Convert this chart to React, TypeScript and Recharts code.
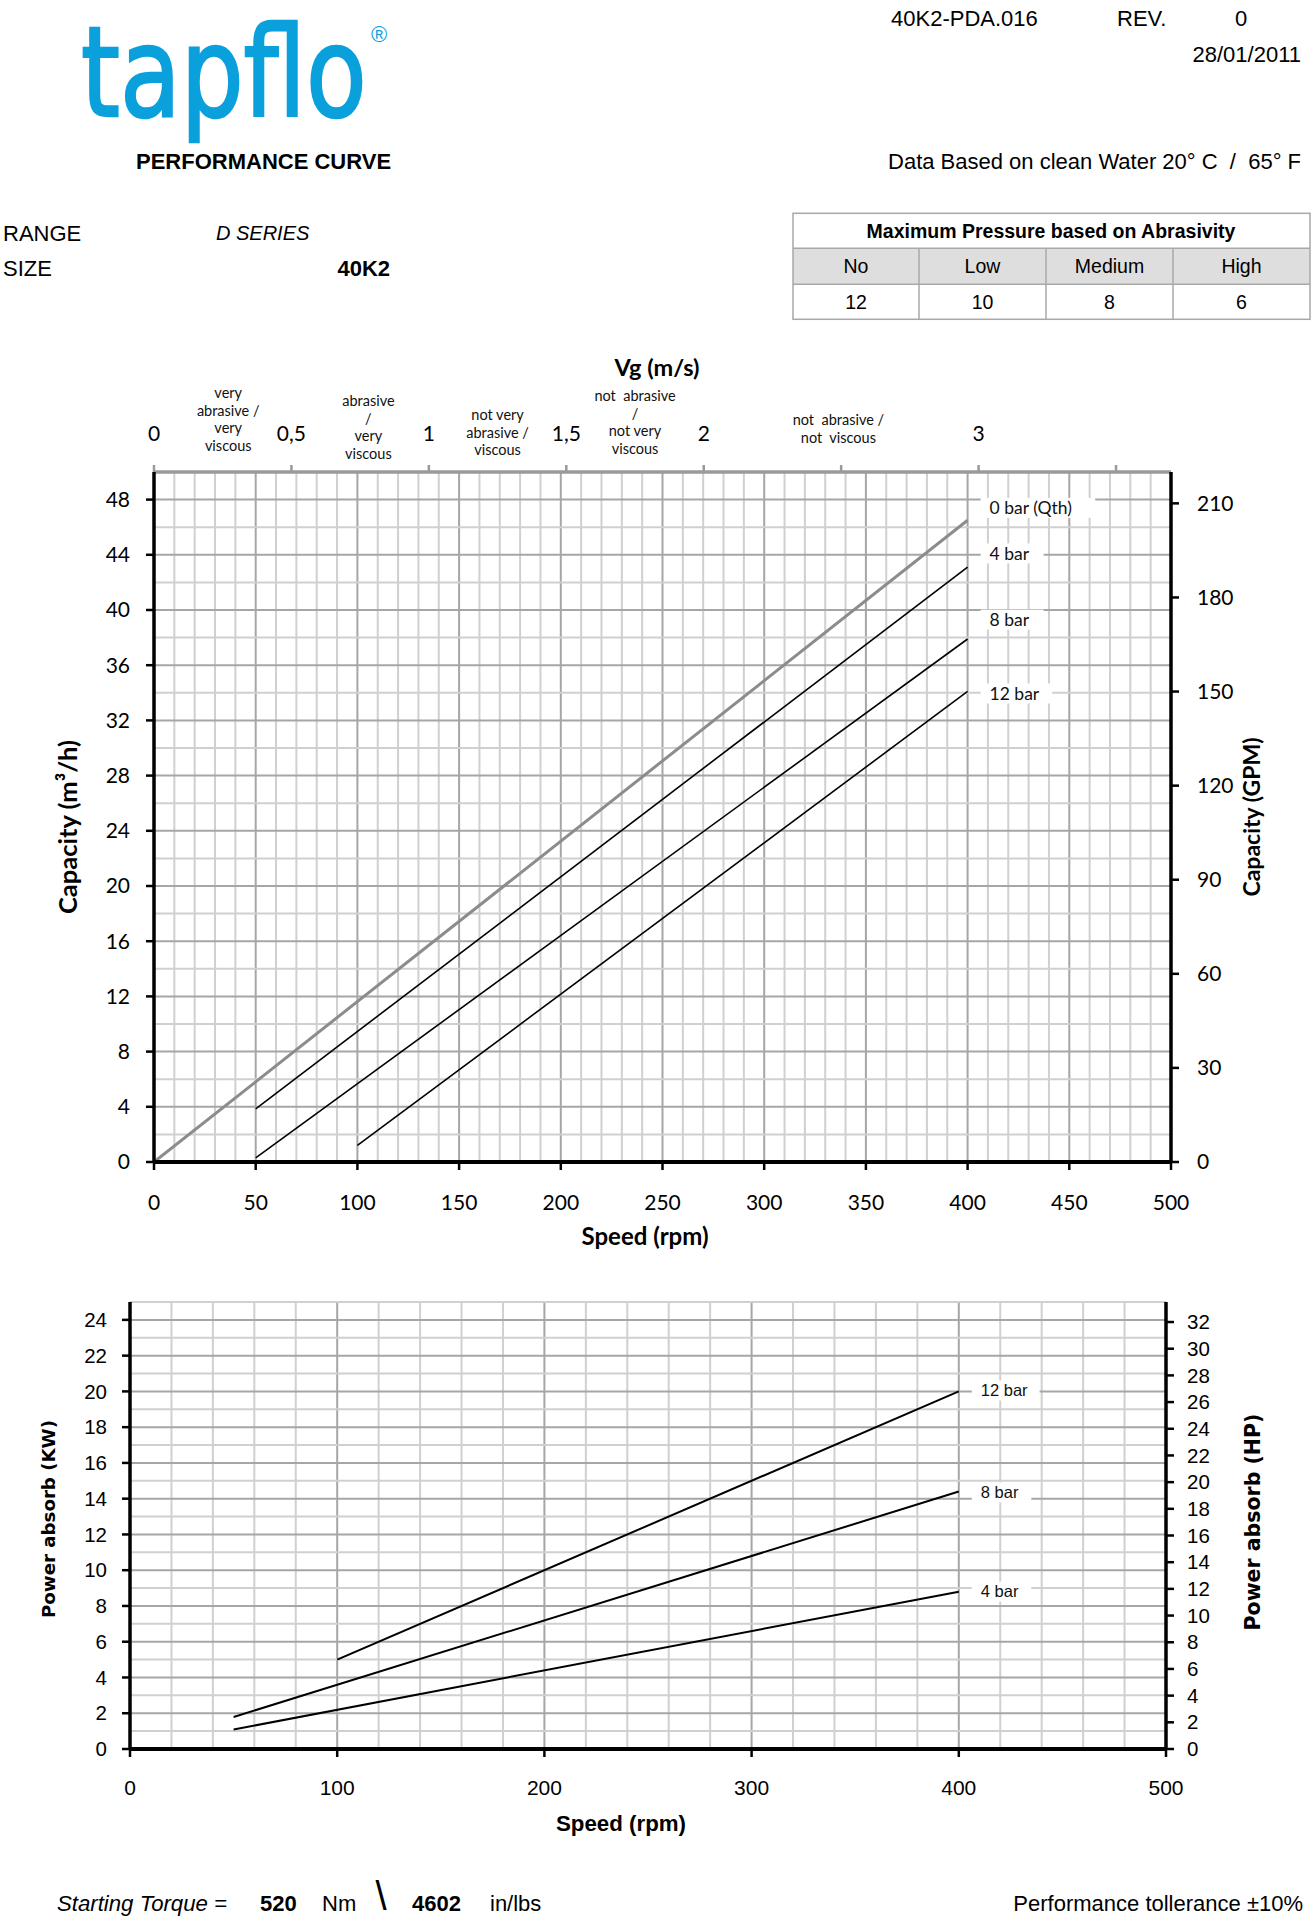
import React from 'react';
import { LineChart, Line, XAxis, YAxis, ReferenceLine, ReferenceDot, Label } from 'recharts';

// ---------------- data ----------------
const speedTicksTop = [0, 50, 100, 150, 200, 250, 300, 350, 400, 450, 500];
const capacityTicks = [0, 4, 8, 12, 16, 20, 24, 28, 32, 36, 40, 44, 48];
const gpmTicks = [0, 30, 60, 90, 120, 150, 180, 210];
const vgTicks = [0, 0.5, 1, 1.5, 2, 2.5, 3, 3.5];
const vgTickLabels = ['0', '0,5', '1', '1,5', '2', '', '3', ''];
const vgZoneCenters = [0.27, 0.78, 1.25, 1.75, 2.49];
const vgZoneTexts = [
  ['very', 'abrasive /', 'very', 'viscous'],
  ['abrasive', '/', 'very', 'viscous'],
  ['not very', 'abrasive /', 'viscous'],
  ['not  abrasive', '/', 'not very', 'viscous'],
  ['not  abrasive /', 'not  viscous'],
];
const vgRange = [0, 3.7];

const capQth = [{ rpm: 0, q: 0 }, { rpm: 400, q: 46.5 }];
const cap4 = [{ rpm: 50, q: 3.85 }, { rpm: 400, q: 43.1 }];
const cap8 = [{ rpm: 50, q: 0.3 }, { rpm: 400, q: 37.9 }];
const cap12 = [{ rpm: 100, q: 1.2 }, { rpm: 400, q: 34.1 }];
const capLabelNames = ['0 bar (Qth)', '4 bar', '8 bar', '12 bar'];
const capLabelRpm = [400, 400, 400, 400];
const capLabelQ = [47.4, 44.1, 39.3, 33.95];

const speedTicksBottom = [0, 100, 200, 300, 400, 500];
const kwTicks = [0, 2, 4, 6, 8, 10, 12, 14, 16, 18, 20, 22, 24];
const hpTicks = [0, 2, 4, 6, 8, 10, 12, 14, 16, 18, 20, 22, 24, 26, 28, 30, 32];
const pow4 = [{ rpm: 50, kw: 1.09 }, { rpm: 400, kw: 8.8 }];
const pow8 = [{ rpm: 50, kw: 1.79 }, { rpm: 400, kw: 14.4 }];
const pow12 = [{ rpm: 100, kw: 5.0 }, { rpm: 400, kw: 20.0 }];
const powLabelNames = ['12 bar', '8 bar', '4 bar'];
const powLabelRpm = [400, 400, 400];
const powLabelKw = [20.05, 14.35, 8.8];

const pressureLevels = ['No', 'Low', 'Medium', 'High'];
const pressureMax = ['12', '10', '8', '6'];

// ---------------- styles / layout ----------------
const ARIAL = '"Liberation Sans", Arial, sans-serif';
const CAL = 'Lato, "Open Sans", sans-serif';
const VERD = '"DejaVu Sans", Verdana, sans-serif';
const GRID_MINOR = '#d0d0d0';
const GRID_MAJOR = '#a6a6a6';
const zoneTopOffsets = [-79, -71, -57, -76, -52];
const ZONE_LINE = 17.5;

const range = (a: number, b: number, s: number) => {
  const r: number[] = [];
  for (let v = a; v <= b + 1e-9; v += s) r.push(+v.toFixed(4));
  return r;
};

const topGridX = range(10, 490, 10);
const topGridY = range(2, 48, 2);
const botGridX = range(20, 480, 20);
const botGridY = range(1, 25, 1);

// ---------------- ticks ----------------
const rpmTickTop = (p: any) => (
  <g>
    <line x1={p.x} y1={p.y} x2={p.x} y2={p.y + 8} stroke="#000" strokeWidth={2.5} />
    <text x={p.x} y={p.y + 41} dy="0.35em" textAnchor="middle" fontFamily={CAL} fontSize={21} fill="#000">
      {p.payload.value}
    </text>
  </g>
);

const capTick = (p: any) => (
  <g>
    <line x1={p.x - 8} y1={p.y} x2={p.x} y2={p.y} stroke="#000" strokeWidth={2.5} />
    <text x={p.x - 24} y={p.y} dy="0.35em" textAnchor="end" fontFamily={CAL} fontSize={21} fill="#000">
      {p.payload.value}
    </text>
  </g>
);

const gpmTick = (p: any) => (
  <g>
    <line x1={p.x} y1={p.y} x2={p.x + 8} y2={p.y} stroke="#000" strokeWidth={2.5} />
    <text x={p.x + 26} y={p.y} dy="0.35em" textAnchor="start" fontFamily={CAL} fontSize={21} fill="#000">
      {p.payload.value}
    </text>
  </g>
);

const vgTick = (p: any) => {
  const v = p.payload.value;
  const zi = vgZoneCenters.indexOf(v);
  const ti = vgTicks.indexOf(v);
  return (
    <g>
      {ti >= 0 && (
        <line x1={p.x} y1={p.y - 7} x2={p.x} y2={p.y} stroke="#9a9a9a" strokeWidth={2.5} />
      )}
      {ti >= 0 && vgTickLabels[ti] !== '' && (
        <text x={p.x} y={p.y - 38} dy="0.35em" textAnchor="middle" fontFamily={CAL} fontSize={21} fill="#000">
          {vgTickLabels[ti]}
        </text>
      )}
      {zi >= 0 &&
        vgZoneTexts[zi].map((line, i) => (
          <text
            key={i}
            x={p.x}
            y={p.y + zoneTopOffsets[zi] + i * ZONE_LINE}
            dy="0.35em"
            textAnchor="middle"
            fontFamily={CAL}
            fontSize={14.5}
            fill="#111"
            style={{ whiteSpace: 'pre' }}
          >
            {line}
          </text>
        ))}
    </g>
  );
};

const rpmTickBot = (p: any) => (
  <g>
    <line x1={p.x} y1={p.y} x2={p.x} y2={p.y + 8} stroke="#000" strokeWidth={2.5} />
    <text x={p.x} y={p.y + 39} dy="0.35em" textAnchor="middle" fontFamily={ARIAL} fontSize={21} fill="#000">
      {p.payload.value}
    </text>
  </g>
);

const kwTick = (p: any) => (
  <g>
    <line x1={p.x - 8} y1={p.y} x2={p.x} y2={p.y} stroke="#000" strokeWidth={2.5} />
    <text x={p.x - 23} y={p.y} dy="0.35em" textAnchor="end" fontFamily={ARIAL} fontSize={20.5} fill="#000">
      {p.payload.value}
    </text>
  </g>
);

const hpTick = (p: any) => (
  <g>
    <line x1={p.x} y1={p.y} x2={p.x + 8} y2={p.y} stroke="#000" strokeWidth={2.5} />
    <text x={p.x + 21} y={p.y} dy="0.35em" textAnchor="start" fontFamily={ARIAL} fontSize={20.5} fill="#000">
      {p.payload.value}
    </text>
  </g>
);

const makeLabelShape = (text: string, font: string, size: number, boxW: number) => (p: any) => (
  <g>
    <rect x={p.cx + 13} y={p.cy - 10} width={boxW} height={20} fill="#fff" />
    <text x={p.cx + 22} y={p.cy} dy="0.35em" fontFamily={font} fontSize={size} fill="#111">
      {text}
    </text>
  </g>
);

const titleText = (x: number, y: number, text: string, font: string, size: number, rot = 0) => () => (
  <text
    transform={`translate(${x},${y}) rotate(${rot})`}
    textAnchor="middle"
    dy="0.35em"
    fontFamily={font}
    fontSize={size}
    fontWeight="bold"
    fill="#000"
  >
    {text}
  </text>
);

// ---------------- charts ----------------
function TopChart() {
  const vgAxisTicks = [...vgTicks, ...vgZoneCenters].sort((a, b) => a - b);
  const vgAnchorRows = vgRange.map((v) => ({ vg: v, q: 0 }));
  return (
    <LineChart width={1312} height={960} margin={{ top: 72, right: 0, bottom: 18, left: 0 }}>
      <XAxis
        xAxisId="rpm"
        type="number"
        dataKey="rpm"
        domain={[0, 500]}
        allowDataOverflow
        ticks={speedTicksTop}
        interval={0}
        height={80}
        tickSize={0}
        tickMargin={0}
        tickLine={false}
        tick={rpmTickTop}
        axisLine={{ stroke: '#000', strokeWidth: 4 }}
      >
        <Label content={titleText(645, 937, 'Speed (rpm)', CAL, 24)} />
      </XAxis>
      <XAxis
        xAxisId="vg"
        type="number"
        dataKey="vg"
        orientation="top"
        domain={vgRange}
        allowDataOverflow
        ticks={vgAxisTicks}
        interval={0}
        height={100}
        tickSize={0}
        tickMargin={0}
        tickLine={false}
        tick={vgTick}
        axisLine={{ stroke: '#9a9a9a', strokeWidth: 3.5 }}
      >
        <Label content={titleText(657, 68, 'Vg (m/s)', CAL, 23.5)} />
      </XAxis>
      <YAxis
        yAxisId="m3"
        type="number"
        domain={[0, 50]}
        allowDataOverflow
        ticks={capacityTicks}
        interval={0}
        width={154}
        tickSize={0}
        tickMargin={0}
        tickLine={false}
        tick={capTick}
        axisLine={{ stroke: '#000', strokeWidth: 3.5 }}
      >
        <Label content={titleText(68, 527, 'Capacity (m³/h)', CAL, 25.5, -90)} />
      </YAxis>
      <YAxis
        yAxisId="gpm"
        orientation="right"
        type="number"
        domain={[0, 220]}
        allowDataOverflow
        ticks={gpmTicks}
        interval={0}
        width={141}
        tickSize={0}
        tickMargin={0}
        tickLine={false}
        tick={gpmTick}
        axisLine={{ stroke: '#000', strokeWidth: 3.5 }}
      >
        <Label content={titleText(1252, 517, 'Capacity (GPM)', CAL, 23, -90)} />
      </YAxis>

      {topGridX.map((v) => (
        <ReferenceLine
          key={'tx' + v}
          xAxisId="rpm"
          yAxisId="m3"
          x={v}
          stroke={v % 50 === 0 ? GRID_MAJOR : GRID_MINOR}
          strokeWidth={2}
        />
      ))}
      {topGridY.map((v) => (
        <ReferenceLine
          key={'ty' + v}
          xAxisId="rpm"
          yAxisId="m3"
          y={v}
          stroke={v % 4 === 0 ? GRID_MAJOR : GRID_MINOR}
          strokeWidth={2}
        />
      ))}

      {/* invisible anchor so the Vg axis gets a scale */}
      <Line
        xAxisId="vg"
        yAxisId="m3"
        data={vgAnchorRows}
        dataKey="q"
        stroke="none"
        strokeWidth={0}
        dot={false}
        activeDot={false}
        legendType="none"
        isAnimationActive={false}
      />

      <Line xAxisId="rpm" yAxisId="m3" data={capQth} dataKey="q" stroke="#8c8c8c" strokeWidth={3} dot={false} isAnimationActive={false} />
      <Line xAxisId="rpm" yAxisId="m3" data={cap4} dataKey="q" stroke="#000" strokeWidth={1.6} dot={false} isAnimationActive={false} />
      <Line xAxisId="rpm" yAxisId="m3" data={cap8} dataKey="q" stroke="#000" strokeWidth={1.6} dot={false} isAnimationActive={false} />
      <Line xAxisId="rpm" yAxisId="m3" data={cap12} dataKey="q" stroke="#000" strokeWidth={1.6} dot={false} isAnimationActive={false} />

      {capLabelNames.map((n, i) => (
        <ReferenceDot
          key={'cl' + i}
          xAxisId="rpm"
          yAxisId="m3"
          x={capLabelRpm[i]}
          y={capLabelQ[i]}
          r={0}
          shape={makeLabelShape(n, CAL, 17.5, n.length * 8.6 + 20)}
        />
      ))}
    </LineChart>
  );
}

function BottomChart() {
  return (
    <LineChart width={1312} height={620} margin={{ top: 42, right: 0, bottom: 31, left: 0 }}>
      <XAxis
        xAxisId="rpm"
        type="number"
        dataKey="rpm"
        domain={[0, 500]}
        allowDataOverflow
        ticks={speedTicksBottom}
        interval={0}
        height={100}
        tickSize={0}
        tickMargin={0}
        tickLine={false}
        tick={rpmTickBot}
        axisLine={{ stroke: '#000', strokeWidth: 4 }}
      >
        <Label content={titleText(621, 563, 'Speed (rpm)', ARIAL, 22.3)} />
      </XAxis>
      <YAxis
        yAxisId="kw"
        type="number"
        domain={[0, 25]}
        allowDataOverflow
        ticks={kwTicks}
        interval={0}
        width={130}
        tickSize={0}
        tickMargin={0}
        tickLine={false}
        tick={kwTick}
        axisLine={{ stroke: '#000', strokeWidth: 3.5 }}
      >
        <Label content={titleText(49, 259, 'Power absorb (KW)', VERD, 18.2, -90)} />
      </YAxis>
      <YAxis
        yAxisId="hp"
        orientation="right"
        type="number"
        domain={[0, 33.5]}
        allowDataOverflow
        ticks={hpTicks}
        interval={0}
        width={146}
        tickSize={0}
        tickMargin={0}
        tickLine={false}
        tick={hpTick}
        axisLine={{ stroke: '#000', strokeWidth: 3.5 }}
      >
        <Label content={titleText(1253, 262, 'Power absorb (HP)', VERD, 20.5, -90)} />
      </YAxis>

      {botGridX.map((v) => (
        <ReferenceLine
          key={'bx' + v}
          xAxisId="rpm"
          yAxisId="kw"
          x={v}
          stroke={v % 100 === 0 ? GRID_MAJOR : GRID_MINOR}
          strokeWidth={2}
        />
      ))}
      {botGridY.map((v) => (
        <ReferenceLine
          key={'by' + v}
          xAxisId="rpm"
          yAxisId="kw"
          y={v}
          stroke={v % 2 === 0 ? GRID_MAJOR : GRID_MINOR}
          strokeWidth={2}
        />
      ))}

      <Line xAxisId="rpm" yAxisId="kw" data={pow4} dataKey="kw" stroke="#000" strokeWidth={2} dot={false} isAnimationActive={false} />
      <Line xAxisId="rpm" yAxisId="kw" data={pow8} dataKey="kw" stroke="#000" strokeWidth={2} dot={false} isAnimationActive={false} />
      <Line xAxisId="rpm" yAxisId="kw" data={pow12} dataKey="kw" stroke="#000" strokeWidth={2} dot={false} isAnimationActive={false} />

      {powLabelNames.map((n, i) => (
        <ReferenceDot
          key={'pl' + i}
          xAxisId="rpm"
          yAxisId="kw"
          x={powLabelRpm[i]}
          y={powLabelKw[i]}
          r={0}
          shape={makeLabelShape(n, ARIAL, 16.5, n.length * 8.3 + 18)}
        />
      ))}
    </LineChart>
  );
}

// ---------------- page ----------------
const txt = (x: number, y: number, s: string, opts: any = {}) => (
  <text
    x={x}
    y={y}
    dy="0.35em"
    fontFamily={ARIAL}
    fontSize={opts.size || 22}
    fontWeight={opts.bold ? 'bold' : 'normal'}
    fontStyle={opts.italic ? 'italic' : 'normal'}
    textAnchor={opts.anchor || 'start'}
    fill="#000"
    style={{ whiteSpace: 'pre' }}
  >
    {s}
  </text>
);

function Header() {
  const colX = [793, 919, 1046, 1173, 1310];
  return (
    <g>
      <text
        transform="translate(81,116) scale(0.8,1)"
        fontFamily={VERD}
        fontSize={124}
        fill="#0aa0dc"
        stroke="#0aa0dc"
        strokeWidth={2.5}
      >
        tapflo
      </text>
      <text x={379} y={34} dy="0.35em" textAnchor="middle" fontFamily={ARIAL} fontSize={22} fill="#0aa0dc">
        ®
      </text>

      {txt(891, 18, '40K2-PDA.016')}
      {txt(1117, 18, 'REV.')}
      {txt(1241, 18, '0', { anchor: 'middle' })}
      {txt(1301, 54, '28/01/2011', { anchor: 'end' })}
      {txt(136, 161, 'PERFORMANCE CURVE', { bold: true })}
      {txt(1301, 161, 'Data Based on clean Water 20° C  /  65° F', { anchor: 'end' })}
      {txt(3, 233, 'RANGE')}
      {txt(216, 233, 'D SERIES', { italic: true, size: 20 })}
      {txt(3, 268, 'SIZE')}
      {txt(390, 268, '40K2', { bold: true, anchor: 'end' })}

      {/* pressure table */}
      <rect x={793} y={248.3} width={517} height={36} fill="#dedede" />
      <rect x={793} y={213.3} width={517} height={106} fill="none" stroke="#a8a8a8" strokeWidth={1.5} />
      <line x1={793} y1={248.3} x2={1310} y2={248.3} stroke="#a8a8a8" strokeWidth={1.5} />
      <line x1={793} y1={284.3} x2={1310} y2={284.3} stroke="#a8a8a8" strokeWidth={1.5} />
      {colX.slice(1, 4).map((x) => (
        <line key={x} x1={x} y1={248.3} x2={x} y2={319.3} stroke="#a8a8a8" strokeWidth={1.5} />
      ))}
      {txt(1051, 231, 'Maximum Pressure based on Abrasivity', { bold: true, size: 19.5, anchor: 'middle' })}
      {pressureLevels.map((l, i) => (
        <g key={l}>
          {txt((colX[i] + colX[i + 1]) / 2, 266.5, l, { size: 19.5, anchor: 'middle' })}
          {txt((colX[i] + colX[i + 1]) / 2, 302, pressureMax[i], { size: 19.5, anchor: 'middle' })}
        </g>
      ))}

      {/* footer */}
      {txt(57, 1903, 'Starting Torque =', { italic: true, size: 22.2 })}
      {txt(260, 1903, '520', { bold: true, size: 22 })}
      {txt(322, 1903, 'Nm', { size: 22 })}
      {txt(381, 1896, '\\', { size: 40, anchor: 'middle' })}
      {txt(412, 1903, '4602', { bold: true, size: 22 })}
      {txt(490, 1903, 'in/lbs', { size: 22 })}
      {txt(1303, 1903, 'Performance tollerance ±10%', { anchor: 'end' })}
    </g>
  );
}

export default function App() {
  return (
    <div
      style={{
        position: 'absolute',
        left: 0,
        top: 0,
        width: 1312,
        height: 1920,
        background: '#fff',
        overflow: 'hidden',
      }}
    >
      <svg width={1312} height={1920} style={{ position: 'absolute', left: 0, top: 0 }}>
        <Header />
      </svg>
      <div style={{ position: 'absolute', left: 0, top: 300 }}>
        <TopChart />
      </div>
      <div style={{ position: 'absolute', left: 0, top: 1260 }}>
        <BottomChart />
      </div>
    </div>
  );
}
